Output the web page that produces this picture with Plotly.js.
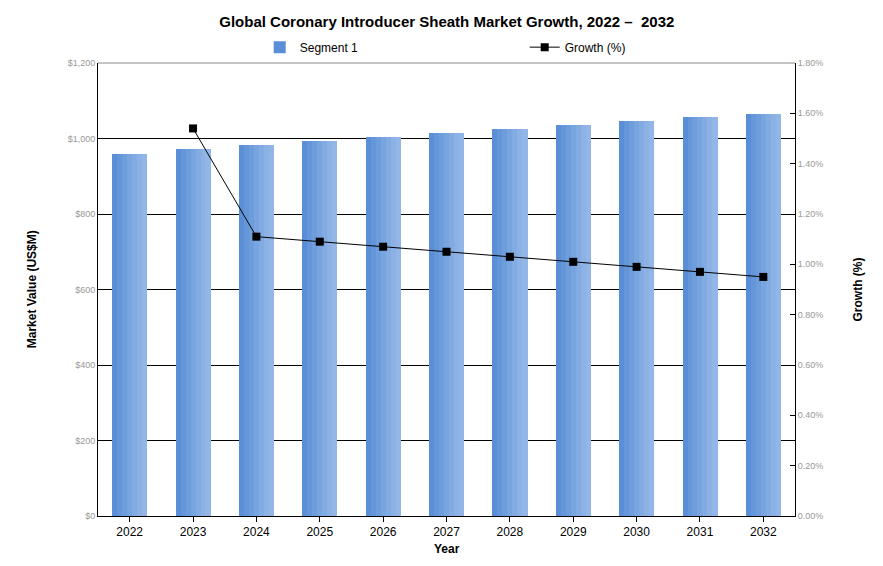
<!DOCTYPE html>
<html>
<head>
<meta charset="utf-8">
<script src="https://cdn.plot.ly/plotly-3.0.1.min.js"></script>
<style>html,body{margin:0;padding:0;background:#fff;}#chart{width:883px;height:566px;}</style>
</head>
<body>
<div id="chart"></div>
<script>
const years = ["2022","2023","2024","2025","2026","2027","2028","2029","2030","2031","2032"];
const marketValue = [959, 972, 983, 993, 1004, 1015, 1025, 1036, 1046, 1057, 1065];
const growthYears = ["2023","2024","2025","2026","2027","2028","2029","2030","2031","2032"];
const growthPct = [1.54, 1.11, 1.09, 1.07, 1.05, 1.03, 1.01, 0.99, 0.97, 0.95];
const leftTicks = [0, 200, 400, 600, 800, 1000, 1200];
const leftTickText = ["$0","$200","$400","$600","$800","$1,000","$1,200"];
const rightTicks = [0, 0.2, 0.4, 0.6, 0.8, 1.0, 1.2, 1.4, 1.6, 1.8];
const rightTickText = ["0.00%","0.20%","0.40%","0.60%","0.80%","1.00%","1.20%","1.40%","1.60%","1.80%"];

// gradient simulated with thin adjacent strips of the same bars
const stripColors = ["#5a8ed6","#6496d9","#6e9ddc","#78a4df","#82abe2","#8bb1e5","#92b6e7"];
const totalW = 0.55;
const n = stripColors.length;
const w = totalW / n;
const traces = [];
stripColors.forEach((c, i) => {
  traces.push({
    type: "bar",
    x: years,
    y: marketValue,
    name: "Segment 1",
    showlegend: i === 0,
    legendgroup: "seg",
    marker: {color: c, line: {width: 0}},
    width: w + 0.004,
    offset: -totalW / 2 + i * w,
    hoverinfo: "x+y"
  });
});
traces.push({
  type: "scatter",
  mode: "lines+markers",
  x: growthYears,
  y: growthPct,
  name: "Growth (%)",
  yaxis: "y2",
  line: {color: "#000", width: 1},
  marker: {symbol: "square", size: 8, color: "#000"}
});

const layout = {
  width: 883, height: 566,
  margin: {l: 98, r: 88, t: 63, b: 50},
  paper_bgcolor: "#fff", plot_bgcolor: "#fff",
  font: {family: "Liberation Sans, Arial, sans-serif", size: 12, color: "#000"},
  title: {text: "<b>Global Coronary Introducer Sheath Market Growth, 2022 –  2032</b>",
          font: {size: 15, color: "#000"}, x: 0.506, xanchor: "center", y: 0.962, yanchor: "middle"},
  barmode: "overlay",
  bargap: 0,
  showlegend: true,
  legend: {orientation: "h", x: 0.232, xanchor: "left", y: 1.035, yanchor: "middle",
           entrywidth: 220, entrywidthmode: "pixels", font: {size: 12}, bgcolor: "rgba(0,0,0,0)"},
  xaxis: {type: "category", range: [-0.5, 10.5], automargin: false, showline: true, linecolor: "#000", linewidth: 1,
          ticks: "outside", ticklen: 5, tickcolor: "#000", showgrid: false,
          tickfont: {size: 12}},
  yaxis: {range: [0, 1200], automargin: false, tickvals: leftTicks, ticktext: leftTickText,
          showline: true, linecolor: "#000", linewidth: 1, ticks: "inside", ticklen: 8, tickcolor: "#000",
          showgrid: true, gridcolor: "#000", gridwidth: 1, zeroline: false,
          tickfont: {size: 9, color: "#999"}},
  yaxis2: {overlaying: "y", side: "right", automargin: false, range: [0, 1.8], tickvals: rightTicks, ticktext: rightTickText,
           showline: true, linecolor: "#000", linewidth: 1, ticks: "inside", ticklen: 5, tickcolor: "#000",
           showgrid: false, zeroline: false, tickfont: {size: 9, color: "#999"}},
  annotations: [
    {text: "<b>Year</b>", xref: "paper", yref: "paper", x: 0.5, y: -0.073, xanchor: "center", yanchor: "middle",
     showarrow: false, font: {size: 12}},
    {text: "<b>Market Value (US$M)</b>", xref: "paper", yref: "paper", x: -0.095, y: 0.5, xanchor: "center", yanchor: "middle",
     textangle: -90, showarrow: false, font: {size: 12}},
    {text: "<b>Growth (%)</b>", xref: "paper", yref: "paper", x: 1.089, y: 0.5, xanchor: "center", yanchor: "middle",
     textangle: -90, showarrow: false, font: {size: 12}}
  ],
  shapes: [{type: "line", xref: "paper", yref: "paper", x0: 0, x1: 1, y0: 1, y1: 1,
            line: {color: "#888", width: 1}}]
};

Plotly.newPlot("chart", traces, layout, {displayModeBar: false, staticPlot: true});
</script>
</body>
</html>
